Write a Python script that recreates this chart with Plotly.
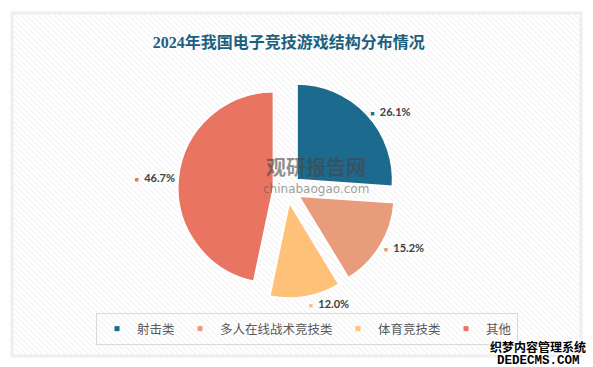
import base64
import plotly.graph_objects as go

# ---- data ----
categories = ["射击类", "多人在线战术竞技类", "体育竞技类", "其他"]
shares = [26.1, 15.2, 12.0, 46.7]
colors = ["#1D6A8F", "#E89C7C", "#FFC078", "#E87461"]
title_text = "2024年我国电子竞技游戏结构分布情况"

W, H = 593, 367

# hatched panel background as an inline SVG image
svg = (
    '<svg xmlns="http://www.w3.org/2000/svg" width="567" height="341">'
    '<defs><pattern id="p" width="4" height="4" patternUnits="userSpaceOnUse" '
    'patternTransform="rotate(-45)">'
    '<line x1="0" y1="0" x2="0" y2="4" stroke="#e9e9e9" stroke-width="1.3"/>'
    '</pattern></defs>'
    '<rect width="100%" height="100%" fill="#ffffff"/>'
    '<rect width="100%" height="100%" fill="url(#p)"/></svg>'
)
svg_uri = "data:image/svg+xml;base64," + base64.b64encode(svg.encode()).decode()

# pie placement (pixels)
cx, cy, r, pull = 287, 189, 96, 0.14
half = r * (1 + pull)

fig = go.Figure()

fig.add_trace(go.Pie(
    labels=categories,
    values=shares,
    sort=False,
    direction="clockwise",
    rotation=0,
    pull=[pull] * len(shares),
    marker=dict(colors=colors, line=dict(color="#ffffff", width=2)),
    texttemplate="<span style='font-size:7px;color:%{color}'>■</span>  %{value:.1f}%",
    textposition="outside",
    textfont=dict(family="Lato, Liberation Sans, sans-serif", size=11, color="#404040", weight="bold"),
    showlegend=False,
    hoverinfo="label+percent",
    domain=dict(x=[(cx - half) / W, (cx + half) / W],
                y=[1 - (cy + half) / H, 1 - (cy - half) / H]),
))

# legend entries with small square symbols
for name, c in zip(categories, colors):
    fig.add_trace(go.Scatter(
        x=[None], y=[None], mode="markers", name=name,
        marker=dict(symbol="square", size=5, color=c),
    ))

panel_x0, panel_y0, panel_x1, panel_y1 = 13, 14, 580, 355
shadow = "1px 1px 0 #fff, -1px -1px 0 #fff, 1px -1px 0 #fff, -1px 1px 0 #fff"

fig.update_layout(
    width=W, height=H,
    margin=dict(l=0, r=0, t=0, b=0),
    paper_bgcolor="#ffffff",
    plot_bgcolor="rgba(0,0,0,0)",
    xaxis=dict(visible=False),
    yaxis=dict(visible=False),
    title=dict(
        text=title_text,
        x=0.487, xanchor="center", y=1 - 42 / H, yanchor="middle",
        font=dict(family="Liberation Serif, Noto Sans CJK SC, serif", size=16,
                  color="#1D5F80", weight="bold"),
    ),
    legend=dict(
        orientation="h",
        x=96 / W, xanchor="left",
        y=1 - 313 / H, yanchor="top",
        bordercolor="#d9d9d9", borderwidth=1,
        bgcolor="rgba(255,255,255,0)",
        font=dict(family="Noto Sans CJK SC, sans-serif", size=12.5, color="#595959"),
        itemwidth=30,
        tracegroupgap=0,
    ),
    images=[dict(
        source=svg_uri, xref="paper", yref="paper",
        x=panel_x0 / W, y=1 - panel_y0 / H,
        sizex=(panel_x1 - panel_x0) / W, sizey=(panel_y1 - panel_y0) / H,
        sizing="stretch", layer="below", xanchor="left", yanchor="top",
    )],
    shapes=[dict(
        type="rect", xref="paper", yref="paper", layer="below",
        x0=(panel_x0 - 1) / W, x1=(panel_x1 + 1) / W,
        y0=1 - (panel_y1 + 1) / H, y1=1 - (panel_y0 - 1) / H,
        line=dict(color="#eeeeee", width=3), fillcolor="rgba(0,0,0,0)",
    )],
    annotations=[
        dict(text="观研报告网", x=316 / W, y=1 - 167 / H, xref="paper", yref="paper",
             xanchor="center", yanchor="middle",
             showarrow=False, font=dict(family="Noto Sans CJK SC", size=20,
                                        color="rgba(70,70,70,0.6)", weight="bold")),
        dict(text="chinabaogao.com", x=316 / W, y=1 - 189 / H, xref="paper", yref="paper",
             xanchor="center", yanchor="middle",
             showarrow=False, font=dict(family="DejaVu Sans", size=12,
                                        color="rgba(90,90,90,0.6)")),
        dict(text="织梦内容管理系统", x=538 / W, y=1 - 346 / H, xref="paper", yref="paper",
             xanchor="center", yanchor="middle", borderpad=0,
             showarrow=False, font=dict(family="Noto Sans CJK SC", size=12, color="#000000",
                                        weight="bold", shadow=shadow)),
        dict(text="DEDECMS.COM", x=538 / W, y=1 - 360.5 / H, xref="paper", yref="paper",
             xanchor="center", yanchor="middle", borderpad=0,
             showarrow=False, font=dict(family="Liberation Mono", size=12.5, color="#000000",
                                        weight="bold", shadow=shadow)),
    ],
)

fig.write_html("out.html", config={"displayModeBar": False},
               post_script="document.body.style.margin='0px';")
